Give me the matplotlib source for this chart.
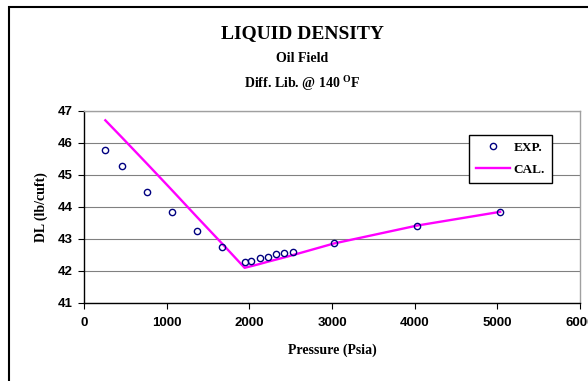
#!/usr/bin/env python
"""
Liquid density vs pressure, experimental points and calculated curve.
"""

import matplotlib
matplotlib.use("Agg")
import matplotlib.pyplot as plt
from matplotlib.patches import Rectangle

pressure = [258, 464, 767, 1063, 1366, 1673, 1943, 2020, 2125, 2222,
            2327, 2416, 2529, 3022, 4028, 5034]
dl_exp = [45.78, 45.26, 44.45, 43.84, 43.24, 42.75, 42.26, 42.31, 42.40,
          42.43, 42.51, 42.55, 42.59, 42.88, 43.41, 43.84]

# calculated curve at the same pressures
dl_cal = [46.70, 46.15, 45.33, 44.52, 43.68, 42.84, 42.09, 42.14, 42.21,
          42.28, 42.35, 42.41, 42.49, 42.85, 43.41, 43.84]

x_ticks = [0, 1000, 2000, 3000, 4000, 5000, 6000]
y_ticks = [41, 42, 43, 44, 45, 46, 47]

SERIF = ["Liberation Serif", "DejaVu Serif"]
SANS = ["Liberation Sans", "DejaVu Sans"]


if __name__ == "__main__":

    plt.rcParams["mathtext.fontset"] = "custom"
    plt.rcParams["mathtext.bf"] = "Liberation Serif:bold"
    plt.rcParams["mathtext.rm"] = "Liberation Serif"

    fig = plt.figure(figsize=(5.88, 3.81), dpi=100)
    W, H = 588.0, 381.0

    # outer frame of the chart object
    fig.patches.append(Rectangle((9 / W, -0.1), 1.2, 1 - 7 / H + 0.1,
                                 transform=fig.transFigure, fill=False,
                                 edgecolor="black", linewidth=1.5))

    ax = fig.add_axes([84 / W, 1 - 302.7 / H, 496 / W, 192 / H])

    ax.plot(pressure, dl_cal, color="#FF00FF", linewidth=1.7, label="CAL.",
            zorder=3)
    ax.plot(pressure, dl_exp, linestyle="none", marker="o", markersize=4.5,
            markerfacecolor="none", markeredgecolor="#000080",
            markeredgewidth=1.0, label="EXP.", zorder=4)

    ax.set_xlim(0, 6000)
    ax.set_ylim(41, 47)
    ax.set_xticks(x_ticks)
    ax.set_yticks(y_ticks)
    ax.set_xticklabels([str(t) for t in x_ticks], family=SANS,
                       fontweight="bold", fontsize=9.5)
    ax.set_yticklabels([str(t) for t in y_ticks], family=SANS,
                       fontweight="bold", fontsize=9.5)
    ax.tick_params(direction="out", length=4, width=0.8, color="black")
    ax.tick_params(axis="x", pad=6)
    ax.tick_params(axis="y", pad=4)

    # horizontal gridlines
    ax.grid(axis="y", color="#808080", linewidth=0.8)
    ax.set_axisbelow(True)

    ax.spines["left"].set_color("black")
    ax.spines["bottom"].set_color("black")
    ax.spines["top"].set_color("#a0a0a0")
    ax.spines["right"].set_color("#a0a0a0")
    for s in ax.spines.values():
        s.set_linewidth(1.0)

    ax.set_xlabel("Pressure (Psia)", family=SERIF, fontweight="bold",
                  fontsize=10, labelpad=11)
    ax.set_ylabel("DL (lb/cuft)", family=SERIF, fontweight="bold",
                  fontsize=10, labelpad=7)

    # titles
    fig.text(302 / W, 1 - 34 / H, "LIQUID DENSITY", family=SERIF,
             fontweight="bold", fontsize=14, ha="center", va="center")
    fig.text(302 / W, 1 - 58 / H, "Oil Field", family=SERIF,
             fontweight="bold", fontsize=10, ha="center", va="center")
    fig.text(302 / W, 1 - 83 / H, r"Diff. Lib. @ 140 $^{\mathbf{O}}$F",
             family=SERIF, fontweight="bold", fontsize=10, ha="center",
             va="center")

    # legend, EXP. first
    handles, labels = ax.get_legend_handles_labels()
    leg = ax.legend(handles[::-1], labels[::-1], loc="upper left",
                    bbox_to_anchor=((469 - 84) / 496, 1 - (135 - 110.7) / 192),
                    borderaxespad=0,
                    prop={"family": SERIF, "weight": "bold", "size": 9.5},
                    frameon=True, fancybox=False, edgecolor="black",
                    framealpha=1, handlelength=2.6, borderpad=0.5,
                    labelspacing=0.75, handletextpad=0.3)
    leg.get_frame().set_linewidth(1.0)

    plt.savefig("out.png", dpi=100)
